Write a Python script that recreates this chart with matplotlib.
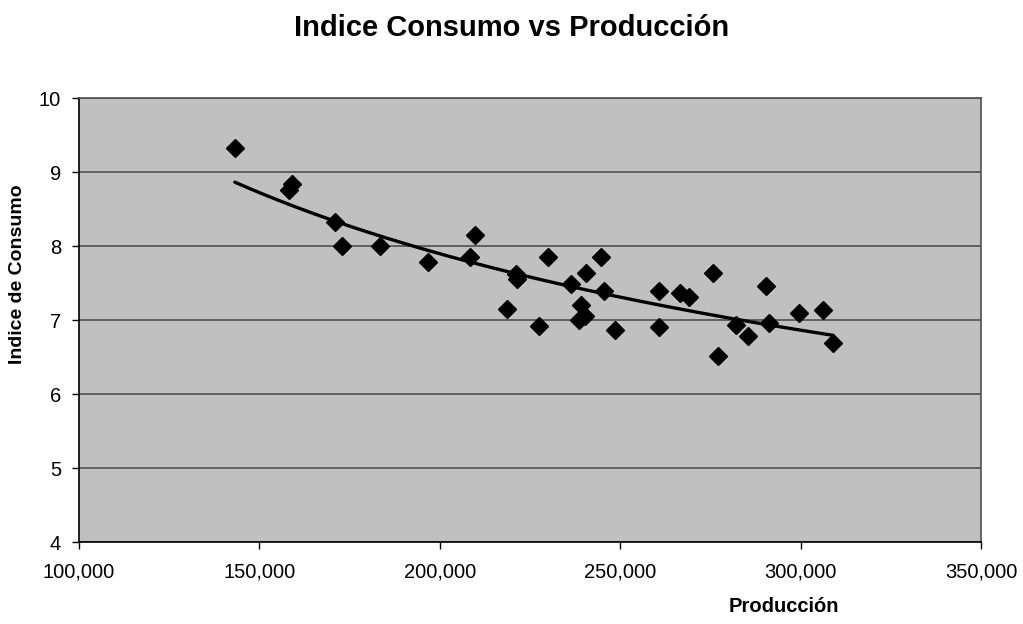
import numpy as np
import matplotlib
matplotlib.use('Agg')
import matplotlib.pyplot as plt
from matplotlib.ticker import FuncFormatter

plt.rcParams['font.family'] = ['Liberation Sans', 'DejaVu Sans']

produccion = [143200, 158900, 158300, 170900, 173000, 183400, 196600, 209700,
              208500, 221000, 221500, 218700, 227500, 229900, 236500, 240500,
              244800, 239100, 240200, 238500, 245500, 248500, 260700, 260700,
              266500, 269000, 275600, 277000, 282000, 285300, 290500, 291300,
              299600, 306200, 309000]
indice = [9.32, 8.84, 8.76, 8.32, 8.00, 8.00, 7.78, 8.15,
          7.85, 7.62, 7.55, 7.15, 6.92, 7.85, 7.49, 7.64,
          7.85, 7.20, 7.06, 7.00, 7.39, 6.86, 7.39, 6.90,
          7.37, 7.31, 7.64, 6.51, 6.93, 6.79, 7.46, 6.96,
          7.09, 7.13, 6.69]

x_ticks = [100000, 150000, 200000, 250000, 300000, 350000]
y_ticks = [4, 5, 6, 7, 8, 9, 10]

# power trendline (y = a * x^b), fitted in log-log space
x = np.array(produccion, dtype=float)
y = np.array(indice, dtype=float)
b, log_a = np.polyfit(np.log(x), np.log(y), 1)
x_fit = np.linspace(x.min(), x.max(), 200)
y_fit = np.exp(log_a) * x_fit ** b

fig = plt.figure(figsize=(10.23, 6.24), dpi=100)
ax = fig.add_axes([79 / 1023, 82 / 624, 902 / 1023, 444 / 624])
ax.set_facecolor('#c0c0c0')

ax.plot(x_fit, y_fit, color='black', linewidth=2.4, solid_capstyle='round', zorder=3)
ax.plot(produccion, indice, linestyle='none', marker='D', markersize=9.6,
        color='black', zorder=4)

ax.set_xlim(100000, 350000)
ax.set_ylim(4, 10)
ax.set_xticks(x_ticks)
ax.set_yticks(y_ticks)
ax.xaxis.set_major_formatter(FuncFormatter(lambda v, p: f'{int(v):,}'))
ax.tick_params(axis='both', labelsize=14.5, length=5, width=1, color='black')
ax.tick_params(axis='x', pad=10)
ax.tick_params(axis='y', pad=8)

ax.yaxis.grid(True, color='#505050', linewidth=1.2)
ax.set_axisbelow(True)
for side in ['left', 'bottom']:
    ax.spines[side].set_color('black')
    ax.spines[side].set_linewidth(1.2)
for side in ['top', 'right']:
    ax.spines[side].set_color('#505050')
    ax.spines[side].set_linewidth(1.2)

fig.text(0.5, 1 - 28 / 624, 'Indice Consumo vs Producción', ha='center', va='center',
         fontsize=21, fontweight='bold')
fig.text(784 / 1023, 1 - 607 / 624, 'Producción', ha='center', va='center',
         fontsize=14.5, fontweight='bold')
fig.text(18 / 1023, 1 - 274 / 624, 'Indice de Consumo', ha='center', va='center',
         rotation=90, fontsize=14, fontweight='bold')

fig.savefig('out.png', dpi=100)
